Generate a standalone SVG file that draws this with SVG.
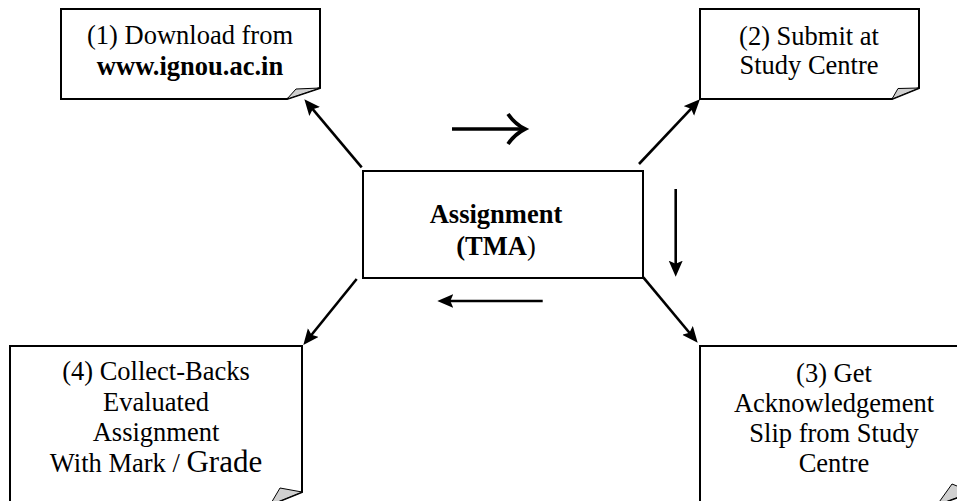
<svg xmlns="http://www.w3.org/2000/svg" width="957" height="501" viewBox="0 0 957 501">
<style>
.box{fill:#fff;stroke:#000;stroke-width:2}
.fold{fill:#d0d0d0;stroke:#000;stroke-width:1}
.t{font-family:"Liberation Serif","Times New Roman",serif;font-size:26.5px;fill:#000;text-anchor:middle}
.b{font-weight:bold}
.c{stroke:#000;stroke-width:2.6;fill:none}
</style>
<defs>
<marker id="ah" markerUnits="userSpaceOnUse" markerWidth="17" markerHeight="15" refX="6" refY="7" orient="auto" viewBox="0 0 17 15">
<path d="M0,0 L16,7 L0,14 L3,7 z" fill="#000"/>
</marker>
</defs>
<g id="connectors">
<line class="c" x1="361.7" y1="167.3" x2="310.8" y2="106.9" marker-end="url(#ah)"/>
<line class="c" x1="639" y1="164" x2="693.1" y2="106.6" marker-end="url(#ah)"/>
<line class="c" x1="643.3" y1="277.3" x2="691.3" y2="335" marker-end="url(#ah)"/>
<line class="c" x1="356.7" y1="279" x2="309.6" y2="337.2" marker-end="url(#ah)"/>
<line class="c" x1="675.7" y1="189" x2="675.7" y2="266.7" marker-end="url(#ah)"/>
<line class="c" x1="542.7" y1="301" x2="447.3" y2="301" marker-end="url(#ah)"/>
<line class="c" x1="452" y1="129" x2="522" y2="129" style="stroke-width:3.6"/>
<path class="c" d="M508,114 Q515,124 525,129 Q515,134 508,144" style="stroke-width:3.8;stroke-linejoin:miter;stroke-miterlimit:10"/>
</g>
<g id="node-center">
<rect class="box" x="363" y="171" width="280" height="107"/>
<text class="t b" x="496" y="223">Assignment</text>
<text class="t" x="496" y="255"><tspan class="b">(TMA</tspan>)</text>
</g>
<g id="node-1">
<path class="box" d="M61,9 H320 V88 L287,99 H61 Z"/>
<path class="fold" d="M287,99 L296,89 L320,88 Z"/>
<text class="t" x="190" y="44">(1) Download from</text>
<text class="t b" x="190" y="75">www.ignou.ac.in</text>
</g>
<g id="node-2">
<path class="box" d="M700,9 H919 V88 L892,99 H700 Z"/>
<path class="fold" d="M892,99 L898,88.5 L919,88 Z"/>
<text class="t" x="809" y="45">(2) Submit at</text>
<text class="t" x="809" y="74">Study Centre</text>
</g>
<g id="node-3">
<path class="box" d="M700,346 H972 V492 L937,505 H700 Z"/>
<path class="fold" d="M937,505 L952,484 L972,492 Z"/>
<text class="t" x="834" y="382">(3) Get</text>
<text class="t" x="834" y="412">Acknowledgement</text>
<text class="t" x="834" y="442">Slip from Study</text>
<text class="t" x="834" y="472">Centre</text>
</g>
<g id="node-4">
<path class="box" d="M10,346 H302 V492 L270,505 H10 Z"/>
<path class="fold" d="M270,505 L280,488 L302,492 Z"/>
<text class="t" x="156" y="380">(4) Collect-Backs</text>
<text class="t" x="156" y="411">Evaluated</text>
<text class="t" x="156" y="441">Assignment</text>
<text class="t" x="156" y="472">With Mark / <tspan style="font-size:31px">Grade</tspan></text>
</g>
</svg>
